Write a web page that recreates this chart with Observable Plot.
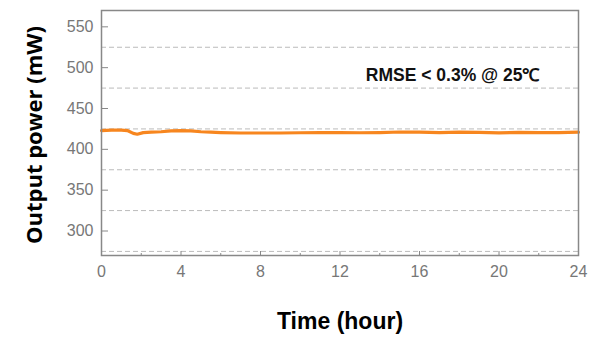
<!DOCTYPE html>
<html><head><meta charset="utf-8">
<script src="https://cdn.jsdelivr.net/npm/d3@7"></script>
<script src="https://cdn.jsdelivr.net/npm/@observablehq/plot@0.6"></script>
<style>
body{margin:0;background:#fff;}
svg{font-family:Arial,"Liberation Sans",sans-serif;}
</style>
</head><body>
<div id="chart"></div>
<script>
const timeHours = [0,0.5,1,1.3,1.6,1.8,2.1,2.5,3,3.5,4,4.5,5,5.5,6,7,8,9,10,11,12,13,14,15,16,17,18,19,20,21,22,23,24];
const powerMW   = [423,423.5,423.5,423,419.5,418.5,420.5,421,421.5,422.5,423,422.5,421.5,421,420.5,420,420,420,420.3,420.5,420.5,420.3,420.5,421.2,421,420.5,421,420.8,420.2,420.8,420.5,420.5,421];
const yTicks = [300,350,400,450,500,550];
const gridLines = [275,325,375,425,475,525];
const xMajorTicks = [0,4,8,12,16,20,24];
const xMinorTicks = [2,6,10,14,18,22];
const annotation = [{x:13.3, y:490, text:"RMSE < 0.3% @ 25℃"}];
const yTitle = "Output power (mW)";
const xTitle = "Time (hour)";

const data = timeHours.map((t,i)=>({t, p: powerMW[i]}));

const chart = Plot.plot({
  width: 595, height: 338,
  marginLeft: 101, marginRight: 17, marginTop: 10, marginBottom: 83,
  style: {background: "#fff"},
  x: {domain: [0,24], label: null},
  y: {domain: [270,570], label: null},
  marks: [
    Plot.ruleY(gridLines, {stroke:"#bbb", strokeDasharray:"5,3", strokeWidth:1}),
    Plot.axisY(yTicks, {tickSize:7, dx:7, tickPadding:8, stroke:"#888", fill:"#777", fontSize:16, label:null}),
    Plot.axisX(xMajorTicks, {tickSize:4, dy:-4, tickPadding:10, stroke:"#888", fill:"#777", fontSize:16, label:null}),
    Plot.axisX(xMinorTicks, {tickSize:2, dy:-2, text:null, stroke:"#888", label:null}),
    Plot.line(data, {x:"t", y:"p", stroke:"#f7861f", strokeWidth:3.2}),
    Plot.text(annotation, {x:"x", y:"y", text:"text", textAnchor:"start", fontWeight:"bold", fontSize:17.5, fill:"#111"}),
    Plot.text([yTitle], {text: d=>d, frameAnchor:"left", rotate:-90, dx:-67, dy:2, fontFamily:"'Open Sans', Arial, sans-serif", fontWeight:"bold", fontSize:22, fill:"#000", textAnchor:"middle", lineAnchor:"middle"}),
    Plot.text([xTitle], {text: d=>d, frameAnchor:"bottom", dy:66, fontWeight:"bold", fontSize:23, fill:"#000", textAnchor:"middle", lineAnchor:"middle"}),
    Plot.frame({stroke:"#888", strokeWidth:1.5})
  ]
});
document.getElementById("chart").appendChild(chart);
</script>
</body></html>
